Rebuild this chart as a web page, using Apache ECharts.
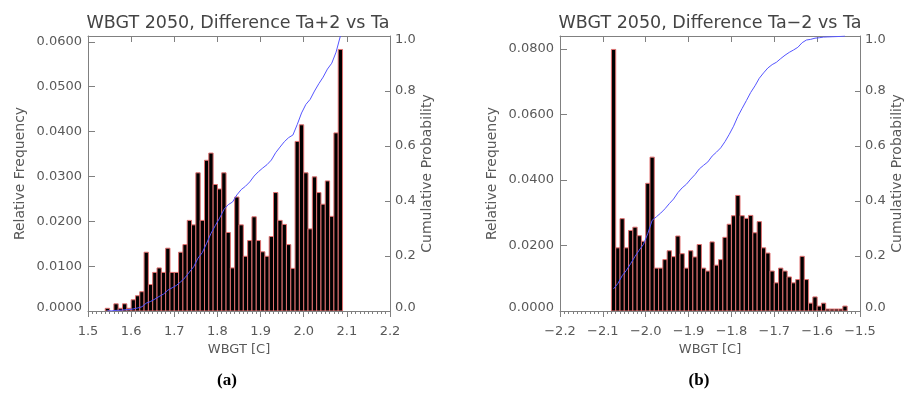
<!DOCTYPE html>
<html>
<head>
<meta charset="utf-8">
<title>WBGT 2050 differences</title>
<script src="https://cdn.jsdelivr.net/npm/echarts@6/dist/echarts.min.js"></script>
<style>
  html, body { margin: 0; padding: 0; background: #fff; }
  #chart { width: 905px; height: 394px; }
</style>
</head>
<body>
<div id="chart"></div>
<script>
// Histogram bins (left edge of each 0.01 C bin) and relative frequencies
const binWidth = 0.01;

const plusBins = [
  1.54, 1.55, 1.56, 1.57, 1.58, 1.59, 1.60, 1.61, 1.62, 1.63,
  1.64, 1.65, 1.66, 1.67, 1.68, 1.69, 1.70, 1.71, 1.72, 1.73,
  1.74, 1.75, 1.76, 1.77, 1.78, 1.79, 1.80, 1.81, 1.82, 1.83,
  1.84, 1.85, 1.86, 1.87, 1.88, 1.89, 1.90, 1.91, 1.92, 1.93,
  1.94, 1.95, 1.96, 1.97, 1.98, 1.99, 2.00, 2.01, 2.02, 2.03,
  2.04, 2.05, 2.06, 2.07, 2.08
];
const plusFreq = [
  0.0006, 0.0000, 0.0016, 0.0006, 0.0016, 0.0006, 0.0025, 0.0034, 0.0043, 0.0131,
  0.0059, 0.0086, 0.0096, 0.0086, 0.0140, 0.0086, 0.0086, 0.0131, 0.0148, 0.0202,
  0.0192, 0.0308, 0.0202, 0.0336, 0.0352, 0.0282, 0.0272, 0.0308, 0.0175, 0.0096,
  0.0254, 0.0192, 0.0122, 0.0157, 0.0210, 0.0157, 0.0132, 0.0122, 0.0166, 0.0264,
  0.0202, 0.0193, 0.0148, 0.0095, 0.0378, 0.0415, 0.0308, 0.0183, 0.0299, 0.0264,
  0.0238, 0.0290, 0.0211, 0.0397, 0.0583
];

const minusBins = [
  -2.08, -2.07, -2.06, -2.05, -2.04, -2.03, -2.02, -2.01, -2.00, -1.99,
  -1.98, -1.97, -1.96, -1.95, -1.94, -1.93, -1.92, -1.91, -1.90, -1.89,
  -1.88, -1.87, -1.86, -1.85, -1.84, -1.83, -1.82, -1.81, -1.80, -1.79,
  -1.78, -1.77, -1.76, -1.75, -1.74, -1.73, -1.72, -1.71, -1.70, -1.69,
  -1.68, -1.67, -1.66, -1.65, -1.64, -1.63, -1.62, -1.61, -1.60, -1.59,
  -1.58, -1.57, -1.56, -1.55, -1.54
];
const minusFreq = [
  0.0799, 0.0193, 0.0282, 0.0193, 0.0246, 0.0256, 0.0230, 0.0213, 0.0390, 0.0470,
  0.0131, 0.0131, 0.0157, 0.0184, 0.0166, 0.0229, 0.0175, 0.0131, 0.0184, 0.0165,
  0.0203, 0.0131, 0.0122, 0.0211, 0.0140, 0.0157, 0.0225, 0.0265, 0.0291, 0.0353,
  0.0291, 0.0283, 0.0292, 0.0239, 0.0273, 0.0193, 0.0177, 0.0122, 0.0086, 0.0131,
  0.0122, 0.0104, 0.0086, 0.0096, 0.0167, 0.0096, 0.0024, 0.0043, 0.0015, 0.0024,
  0.0006, 0.0006, 0.0006, 0.0006, 0.0015
];

// Axis ranges and tick labels
const plusXTicks = ['1.5', '1.6', '1.7', '1.8', '1.9', '2.0', '2.1', '2.2'];
const minusXTicks = ['\u22122.2', '\u22122.1', '\u22122.0', '\u22121.9', '\u22121.8', '\u22121.7', '\u22121.6', '\u22121.5'];
const plusFreqMax = 0.0613;
const minusFreqMax = 0.084;

const titles = ['WBGT 2050, Difference Ta+2 vs Ta', 'WBGT 2050, Difference Ta\u22122 vs Ta'];
const panelTags = ['(a)', '(b)'];

const FONT = '"DejaVu Sans", sans-serif';
const TEXT = '#595959';
const AXIS = '#808080';

// Running sum of the histogram, normalised to a probability
function cumulative(bins, freq) {
  const total = freq.reduce((a, b) => a + b, 0);
  let run = 0;
  return bins.map((b, i) => {
    run += freq[i];
    return [b + binWidth / 2, run / total];
  });
}

function renderBin(params, api) {
  const x0 = api.value(0);
  const h = api.value(1);
  if (!h) return null;
  const top = api.coord([x0, h]);
  const base = api.coord([x0 + binWidth, 0]);
  return {
    type: 'rect',
    shape: { x: top[0], y: top[1], width: base[0] - top[0], height: base[1] - top[1] },
    style: { fill: '#000', stroke: '#e07070', lineWidth: 1 }
  };
}

function bottomAxis(grid, min, max, labels) {
  return {
    type: 'value', gridIndex: grid, position: 'bottom', min: min, max: max, interval: 0.1,
    axisLine: { show: true, onZero: false, lineStyle: { color: AXIS, width: 1 } },
    axisTick: { show: true, inside: false, length: 6, lineStyle: { color: AXIS } },
    minorTick: { show: true, splitNumber: 10, length: 3, lineStyle: { color: AXIS } },
    splitLine: { show: false },
    axisLabel: {
      show: true, margin: 14, color: TEXT, fontFamily: FONT, fontSize: 13,
      formatter: v => {
        const k = Math.round((v - min) / 0.1);
        return Math.abs(v - (min + k * 0.1)) < 1e-6 ? labels[k] : '';
      }
    },
    name: 'WBGT [C]', nameLocation: 'middle', nameGap: 31,
    nameTextStyle: { color: TEXT, fontFamily: FONT, fontSize: 13 }
  };
}

function topAxis(grid, min, max) {
  return {
    type: 'value', gridIndex: grid, position: 'top', min: min, max: max, interval: 0.1,
    axisLine: { show: true, onZero: false, lineStyle: { color: AXIS, width: 1 } },
    axisTick: { show: true, inside: true, length: 6, lineStyle: { color: AXIS } },
    axisLabel: { show: false }, splitLine: { show: false }
  };
}

function freqAxis(grid, max, step, gap) {
  return {
    type: 'value', gridIndex: grid, position: 'left', min: 0, max: max, interval: step,
    axisLine: { show: true, onZero: false, lineStyle: { color: AXIS, width: 1 } },
    axisTick: { show: true, inside: true, length: 7, lineStyle: { color: AXIS } },
    splitLine: { show: false },
    axisLabel: {
      show: true, margin: 6, color: TEXT, fontFamily: FONT, fontSize: 13,
      formatter: v => {
        const k = Math.round(v / step);
        if (Math.abs(v - k * step) > 1e-9) return '';
        const s = (k * step).toFixed(4);
        return k === 0 ? '{lo|' + s + '}' : s;
      },
      rich: { lo: { color: TEXT, fontFamily: FONT, fontSize: 13, padding: [0, 0, 7, 0] } }
    },
    name: 'Relative Frequency', nameLocation: 'middle', nameGap: gap, nameRotate: 90,
    nameTextStyle: { color: TEXT, fontFamily: FONT, fontSize: 14 }
  };
}

function probAxis(grid) {
  return {
    type: 'value', gridIndex: grid, position: 'right', min: 0, max: 1, interval: 0.2,
    axisLine: { show: true, onZero: false, lineStyle: { color: AXIS, width: 1 } },
    axisTick: { show: true, inside: true, length: 5, lineStyle: { color: AXIS } },
    splitLine: { show: false },
    axisLabel: {
      show: true, margin: 5, color: TEXT, fontFamily: FONT, fontSize: 13,
      formatter: v => {
        const s = v.toFixed(1);
        if (v < 1e-9) return '{lo|' + s + '}';
        if (v > 1 - 1e-9) return '{hi|' + s + '}';
        return s;
      },
      rich: {
        lo: { color: TEXT, fontFamily: FONT, fontSize: 13, padding: [0, 0, 7, 0] },
        hi: { color: TEXT, fontFamily: FONT, fontSize: 13, padding: [8, 0, 0, 0] }
      }
    },
    name: 'Cumulative Probability', nameLocation: 'middle', nameGap: 30, nameRotate: 90,
    nameTextStyle: { color: TEXT, fontFamily: FONT, fontSize: 14 }
  };
}

const chart = echarts.init(document.getElementById('chart'), null, { renderer: 'canvas' });

chart.setOption({
  animation: false,
  backgroundColor: '#fff',
  grid: [
    { left: 88, top: 36, width: 302, height: 275 },
    { left: 560, top: 36, width: 302, height: 275 }
  ],
  xAxis: [
    bottomAxis(0, 1.5, 2.2, plusXTicks),
    topAxis(0, 1.5, 2.2),
    bottomAxis(1, -2.2, -1.5, minusXTicks),
    topAxis(1, -2.2, -1.5)
  ],
  yAxis: [
    freqAxis(0, plusFreqMax, 0.01, 61),
    probAxis(0),
    freqAxis(1, minusFreqMax, 0.02, 61),
    probAxis(1)
  ],
  series: [
    {
      type: 'custom', xAxisIndex: 0, yAxisIndex: 0, clip: true,
      renderItem: renderBin, data: plusBins.map((b, i) => [b, plusFreq[i]])
    },
    {
      type: 'line', xAxisIndex: 0, yAxisIndex: 1, showSymbol: false, clip: true,
      lineStyle: { color: '#5555ff', width: 1 },
      data: cumulative(plusBins, plusFreq)
    },
    {
      type: 'custom', xAxisIndex: 2, yAxisIndex: 2, clip: true,
      renderItem: renderBin, data: minusBins.map((b, i) => [b, minusFreq[i]])
    },
    {
      type: 'line', xAxisIndex: 2, yAxisIndex: 3, showSymbol: false, clip: true,
      lineStyle: { color: '#5555ff', width: 1 },
      data: cumulative(minusBins, minusFreq)
    }
  ],
  graphic: [
    { type: 'text', x: 238, y: 23, style: { text: titles[0], align: 'center', verticalAlign: 'middle', fill: '#444', font: '17.5px ' + FONT } },
    { type: 'text', x: 710, y: 23, style: { text: titles[1], align: 'center', verticalAlign: 'middle', fill: '#444', font: '17.5px ' + FONT } },
    { type: 'text', x: 227, y: 381, style: { text: panelTags[0], align: 'center', verticalAlign: 'middle', fill: '#000', font: 'bold 17px "Liberation Serif", serif' } },
    { type: 'text', x: 699, y: 381, style: { text: panelTags[1], align: 'center', verticalAlign: 'middle', fill: '#000', font: 'bold 17px "Liberation Serif", serif' } }
  ]
});
</script>
</body>
</html>
